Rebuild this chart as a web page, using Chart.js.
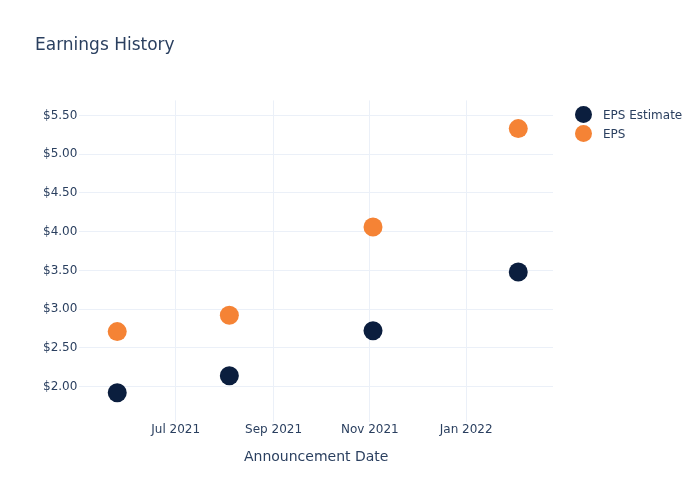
<!DOCTYPE html>
<html>
<head>
<meta charset="utf-8">
<script src="https://cdn.jsdelivr.net/npm/chart.js@4/dist/chart.umd.min.js"></script>
<style>
  html, body { margin: 0; padding: 0; background: #fff; }
  #wrap { width: 700px; height: 500px; position: relative; }
  #legend { position: absolute; left: 575px; top: 106px; font-family: "DejaVu Sans", Verdana, sans-serif; font-size: 12px; color: #2a3f5f; }
  #legend .item { height: 19px; line-height: 19px; white-space: nowrap; }
  #legend .dot { display: inline-block; width: 17px; height: 17px; border-radius: 50%; vertical-align: middle; margin-right: 11px; position: relative; top: -1px; }
</style>
</head>
<body>
<div id="wrap"><canvas id="epsChart"></canvas><div id="legend"></div></div>
<script>
// announcement dates (UTC)
var dates = ['2021-05-25', '2021-08-04', '2021-11-03', '2022-02-03'];
var epsEstimate = [1.92, 2.14, 2.72, 3.48];
var epsActual = [2.71, 2.92, 4.06, 5.33];
var xTickDates = ['2021-07-01', '2021-09-01', '2021-11-01', '2022-01-01'];
var xTickLabels = ['Jul 2021', 'Sep 2021', 'Nov 2021', 'Jan 2022'];
var yTicks = [2.0, 2.5, 3.0, 3.5, 4.0, 4.5, 5.0, 5.5];

function ts(s) { return Date.parse(s + 'T00:00:00Z'); }

var textColor = '#2a3f5f';
var gridColor = '#ebf0f8';
Chart.defaults.font.family = '"DejaVu Sans", Verdana, sans-serif';
Chart.defaults.color = textColor;

var ctx = document.getElementById('epsChart').getContext('2d');

var chartData = {
    datasets: [
        {
            label: 'EPS Estimate',
            data: dates.map(function (d, i) { return { x: ts(d), y: epsEstimate[i] }; }),
            backgroundColor: '#0b1e3e',
            borderColor: '#0b1e3e',
            pointRadius: 9.5,
            pointHoverRadius: 9.5,
            borderWidth: 0,
            showLine: false
        },
        {
            label: 'EPS',
            data: dates.map(function (d, i) { return { x: ts(d), y: epsActual[i] }; }),
            backgroundColor: '#f58335',
            borderColor: '#f58335',
            pointRadius: 9.5,
            pointHoverRadius: 9.5,
            borderWidth: 0,
            showLine: false
        }
    ]
};

var chart = new Chart(ctx, {
    type: 'scatter',
    data: chartData,
    options: {
        responsive: true,
        maintainAspectRatio: false,
        animation: false,
        layout: { padding: { left: 35, right: 147, top: 27, bottom: 34 } },
        plugins: {
            title: {
                display: true,
                text: 'Earnings History',
                align: 'start',
                color: textColor,
                font: { size: 17, weight: 'normal' },
                padding: { top: 8, bottom: 45 }
            },
            legend: { display: false },
            tooltip: { enabled: false }
        },
        scales: {
            x: {
                type: 'linear',
                min: ts('2021-05-01'),
                max: ts('2022-02-25'),
                afterBuildTicks: function (axis) {
                    axis.ticks = xTickDates.map(function (d) { return { value: ts(d) }; });
                },
                ticks: {
                    color: textColor,
                    font: { size: 12 },
                    padding: 1,
                    maxRotation: 0,
                    autoSkip: false,
                    callback: function (v) {
                        var i = xTickDates.map(ts).indexOf(v);
                        return i >= 0 ? xTickLabels[i] : '';
                    }
                },
                grid: { color: gridColor, drawTicks: false },
                border: { display: false },
                title: {
                    display: true,
                    text: 'Announcement Date',
                    color: textColor,
                    font: { size: 14 },
                    padding: { top: 11, bottom: 0 }
                }
            },
            y: {
                min: 1.546,
                max: 5.694,
                afterBuildTicks: function (axis) {
                    axis.ticks = yTicks.map(function (v) { return { value: v }; });
                },
                afterFit: function (axis) { axis.width += 6; },
                ticks: {
                    color: textColor,
                    font: { size: 12 },
                    padding: 2,
                    callback: function (v) { return '$' + v.toFixed(2); }
                },
                grid: { color: gridColor, drawTicks: false },
                border: { display: false }
            }
        }
    }
});

// legend built from the datasets
var legendEl = document.getElementById('legend');
chart.data.datasets.forEach(function (ds) {
    var item = document.createElement('div');
    item.className = 'item';
    var dot = document.createElement('span');
    dot.className = 'dot';
    dot.style.background = ds.backgroundColor;
    item.appendChild(dot);
    item.appendChild(document.createTextNode(ds.label));
    legendEl.appendChild(item);
});
</script>
</body>
</html>
